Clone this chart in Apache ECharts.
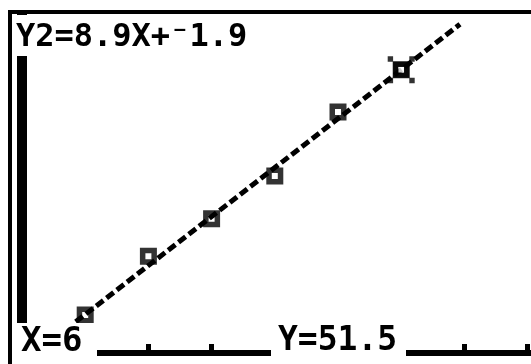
<!DOCTYPE html>
<html><head><meta charset="utf-8">
<script src="https://cdn.jsdelivr.net/npm/echarts@6/dist/echarts.min.js"></script>
<style>html,body{margin:0;padding:0;background:#fff;overflow:hidden;width:531px;height:364px;position:relative}
#c{position:absolute;left:-50px;top:-40px;width:641px;height:454px}</style>
</head><body><div id="c"></div>
<script>
// Stat plot data (L1, L2)
const xValues = [1, 2, 3, 4, 5, 6];
const yValues = [6.9, 17.6, 24.4, 32.2, 43.8, 51.5];
// Regression Y2 = 8.9X + -1.9
const slope = 8.9;
const intercept = -1.9;
const lineXRange = [0.85, 6.93];
// Trace cursor
const traceX = 6;
const traceY = 51.5;
const equationLabel = 'Y2=8.9X+\u207B1.9';
const traceXLabel = 'X=6';
const traceYLabel = 'Y=51.5';

const OX = 50, OY = 40; // container offset vs window
const chart = echarts.init(document.getElementById('c'), null, {renderer: 'canvas'});
const pts = xValues.map((x, i) => [x, yValues[i]]);
const linePts = lineXRange.map(x => [x, slope * x + intercept]);
const cursorPath = 'path://M0 0h1v1h-1zM4 0h1v1h-1zM0 4h1v1h-1zM4 4h1v1h-1zM1 1h3v1h-3zM1 3h3v1h-3zM1 2h1v1h-1zM3 2h1v1h-1z';
const font = '"DejaVu Sans Mono", monospace';

chart.setOption({
  animation: false,
  backgroundColor: '#ffffff',
  grid: {left: 8.8, right: 0.2, top: 8, bottom: 6, containLabel: false},
  xAxis: {
    type: 'value', min: -1, max: 9, interval: 1,
    axisLine: {show: true, onZero: true, lineStyle: {color: '#000', width: 6}},
    axisTick: {show: true, inside: true, length: 9, lineStyle: {color: '#000', width: 5}},
    axisLabel: {show: false}, splitLine: {show: false}
  },
  yAxis: {
    type: 'value', min: -10, max: 70, interval: 10,
    axisLine: {show: true, onZero: true, lineStyle: {color: '#000', width: 10}},
    axisTick: {show: false}, axisLabel: {show: false}, splitLine: {show: false}
  },
  series: [
    {
      type: 'scatter', data: pts, symbol: 'rect', symbolSize: 11.5, z: 2,
      itemStyle: {color: '#fff', borderColor: '#000', borderWidth: 5.5}
    },
    {
      type: 'line', data: linePts, showSymbol: false, z: 3,
      lineStyle: {color: '#000', width: 5, type: [9, 4]}
    },
    {
      type: 'scatter', data: [[traceX, traceY]], symbol: cursorPath, symbolSize: 27, z: 4,
      itemStyle: {color: '#000'}
    },
    {
      type: 'scatter', data: [[traceX, traceY]], symbol: 'rect', symbolSize: 5.5, z: 5,
      itemStyle: {color: '#fff'}
    }
  ],
  graphic: [
    {type: 'rect', z: 100, shape: {x: OX + 12, y: OY + 15, width: 244, height: 41}, style: {fill: '#fff'}},
    {type: 'text', z: 101, x: OX + 16, y: OY + 22, style: {text: equationLabel, font: 'bold 32px ' + font, fill: '#000'}},
    {type: 'rect', z: 100, shape: {x: OX + 12, y: OY + 323, width: 85, height: 41}, style: {fill: '#fff'}},
    {type: 'text', z: 101, x: OX + 21, y: OY + 325, style: {text: traceXLabel, font: 'bold 34px ' + font, fill: '#000'}},
    {type: 'rect', z: 100, shape: {x: OX + 271, y: OY + 323, width: 135, height: 41}, style: {fill: '#fff'}},
    {type: 'text', z: 101, x: OX + 278, y: OY + 325, style: {text: traceYLabel, font: 'bold 33px ' + font, fill: '#000'}},
    {type: 'rect', z: 103, shape: {x: 0, y: 0, width: 641, height: OY + 10}, style: {fill: '#fff'}},
    {type: 'rect', z: 103, shape: {x: 0, y: 0, width: OX + 8, height: 454}, style: {fill: '#fff'}},
    {type: 'rect', z: 104, shape: {x: OX + 8, y: OY + 10, width: 540, height: 4}, style: {fill: '#000'}},
    {type: 'rect', z: 104, shape: {x: OX + 8, y: OY + 10, width: 4, height: 380}, style: {fill: '#000'}}
  ]
});
</script></body></html>
